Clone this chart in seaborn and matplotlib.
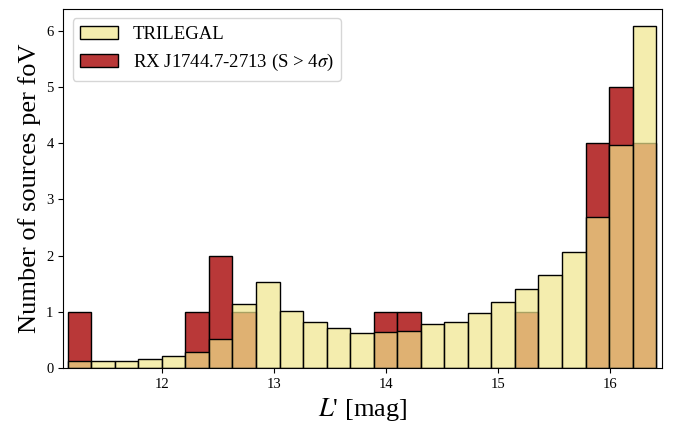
import numpy as np
import pandas as pd
import matplotlib
matplotlib.use("Agg")
import matplotlib.pyplot as plt
import seaborn as sns

# Bin edges of the histogram (L' magnitude)
bin_lo, bin_hi, n_bins = 11.155, 16.41, 25
trilegal = [0.13, 0.12, 0.13, 0.16, 0.21, 0.29, 0.52, 1.13, 1.53, 1.01, 0.81, 0.71, 0.63,
            0.64, 0.66, 0.78, 0.81, 0.98, 1.18, 1.41, 1.65, 2.07, 2.68, 3.97, 6.08]
rx_counts = [1, 0, 0, 0, 0, 1, 2, 1, 0, 0, 0, 0, 0,
             1, 1, 0, 0, 0, 0, 1, 0, 0, 4, 5, 4]
xticks = [12, 13, 14, 15, 16]
yticks = [0, 1, 2, 3, 4, 5, 6]

plt.rcParams['font.family'] = ['Liberation Serif', 'DejaVu Serif']
plt.rcParams['mathtext.fontset'] = 'stix'

edges = np.linspace(bin_lo, bin_hi, n_bins + 1)
centers = 0.5 * (edges[:-1] + edges[1:])
df = pd.DataFrame({'mag': centers, 'trilegal': trilegal, 'rx': rx_counts})

fig, ax = plt.subplots(figsize=(6.73, 4.26), dpi=100)
fig.subplots_adjust(left=0.094, right=0.984, bottom=0.136, top=0.979)

sns.histplot(data=df, x='mag', weights='rx', bins=n_bins, binrange=(bin_lo, bin_hi),
             color='firebrick', alpha=0.9, edgecolor='black', linewidth=1.0, ax=ax,
             label=r'RX J1744.7-2713 (S > 4$\sigma$)')
sns.histplot(data=df, x='mag', weights='trilegal', bins=n_bins, binrange=(bin_lo, bin_hi),
             color='khaki', alpha=0.7, edgecolor='black', linewidth=1.0, ax=ax,
             label='TRILEGAL')

ax.set_xlim(11.116, 16.464)
ax.set_xticks(xticks)
ax.set_yticks(yticks)
ax.tick_params(labelsize=10.5)
ax.set_xlabel(r"$L$' [mag]", fontsize=19)
ax.set_ylabel("Number of sources per foV", fontsize=19)

handles, labels = ax.get_legend_handles_labels()
ax.legend(handles[::-1], labels[::-1], loc='upper left', fontsize=13.5)

fig.savefig("out.png", dpi=100)
